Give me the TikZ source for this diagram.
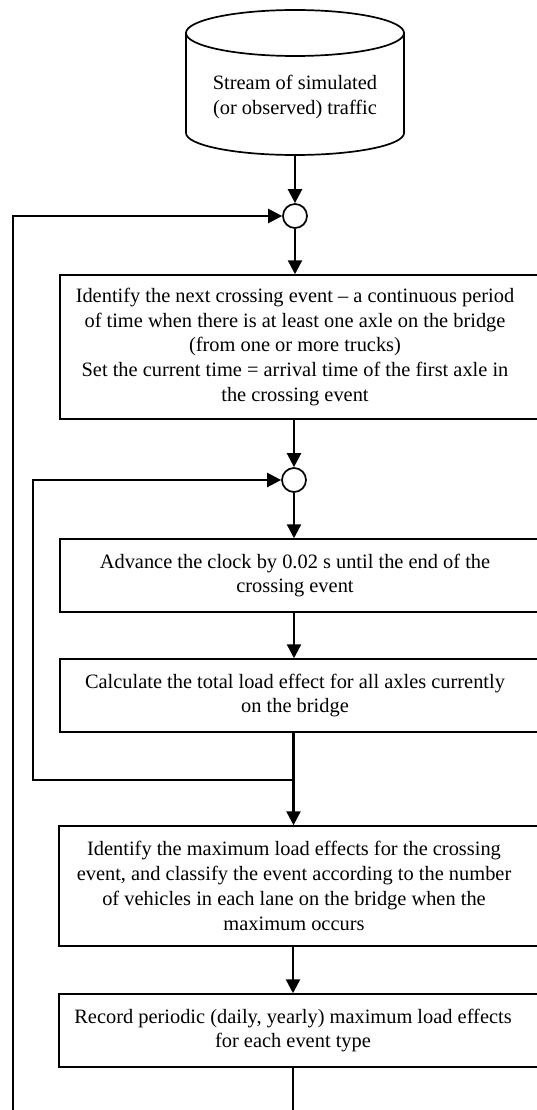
\documentclass[tikz,border=0pt]{standalone}
\usepackage{fontspec}
\setmainfont{Liberation Serif}
\usetikzlibrary{arrows.meta}
\begin{document}
\begin{tikzpicture}[x=1pt,y=-1pt,
  box/.style={draw,line width=1.5pt,minimum width=490pt,inner sep=0pt},
  txt/.style={align=center,inner sep=0pt,font=\fontsize{20.4}{24.8}\selectfont},
  junc/.style={circle,draw,line width=1.7pt,minimum size=24pt,inner sep=0pt,fill=white},
  conn/.style={line width=2.4pt},
  arr/.style={conn,-{Triangle[length=14pt,width=14pt]}}]
\useasboundingbox (0,0) rectangle (537,1110);
\clip (0,0) rectangle (537,1110);
% cylinder
\draw[line width=1.7pt] (186,33) -- (186,133) arc[start angle=180,end angle=360,x radius=109pt,y radius=22pt] -- (404,33);
\draw[line width=1.7pt] (295,33) ellipse[x radius=109pt,y radius=23pt];
\node[txt] (src) at (295,97) {Stream of simulated\\(or observed) traffic};
\coordinate (srcbot) at (295,155);
% junctions
\node[junc] (c1) at (295,216) {};
\node[junc] (c2) at (294,480) {};
% boxes
\node[box,minimum height=144pt] (b1) at (305,347) {};
\node[txt] (t1) at (295,347) {Identify the next crossing event -- a continuous period\\of time when there is at least one axle on the bridge\\(from one or more trucks)\\Set the current time = arrival time of the first axle in\\the crossing event};
\node[box,minimum height=73pt] (b2) at (305,575.5) {};
\node[txt] (t2) at (295,575.5) {Advance the clock by 0.02 s until the end of the\\crossing event};
\node[box,minimum height=73pt] (b3) at (305,695.5) {};
\node[txt] (t3) at (295,695.5) {Calculate the total load effect for all axles currently\\on the bridge};
\node[box,minimum height=120pt] (b4) at (304,886) {};
\node[txt] (t4) at (294,886) {Identify the maximum load effects for the crossing\\event, and classify the event according to the number\\of vehicles in each lane on the bridge when the\\maximum occurs};
\node[box,minimum height=73pt] (b5) at (304,1030.5) {};
\node[txt] (t5) at (293,1030.5) {Record periodic (daily, yearly) maximum load effects\\for each event type};
% coordinates
\coordinate (j1) at (293.5,780);
\coordinate (j2) at (293,1130);
% connectors
\draw[arr] (srcbot) -- (c1.north);
\draw[arr] (c1.south) -- (c1.south |- b1.north);
\draw[arr] (b1.south -| c2) -- (c2.north);
\draw[arr] (c2.south) -- (c2.south |- b2.north);
\draw[arr] (b2.south -| c2) -- (c2 |- b3.north);
\draw[conn] (b3.south -| j1) -- (j1);
\draw[arr] (j1) -- (33,780) -- (33,480) -- (c2.west);
\draw[arr] (j1) -- (j1 |- b4.north);
\draw[arr] (b4.south -| j2) -- (j2 |- b5.north);
\draw[arr] (b5.south -| j2) -- (j2) -- (13,1130) -- (13,216) -- (c1.west);
\end{tikzpicture}
\end{document}
